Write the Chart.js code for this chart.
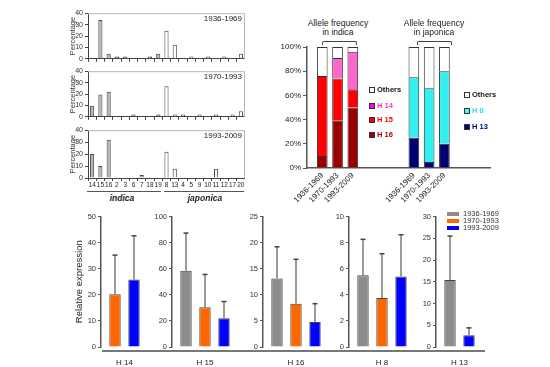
<!DOCTYPE html>
<html>
<head>
<meta charset="utf-8">
<script src="https://cdn.jsdelivr.net/npm/chart.js@4.4.0/dist/chart.umd.min.js"></script>
<style>
  body { margin: 0; background: #fff; font-family: Arial, "Liberation Sans", sans-serif; }
  #fig { position: relative; width: 550px; height: 367px; overflow: hidden; }
  canvas { position: absolute; }
  .t { position: absolute; white-space: nowrap; color: #222; line-height: 1; }
  .c { transform: translate(-50%, -50%); }
  .m { transform: translateY(-50%); }
  .ln { position: absolute; background: #555; }
  .sw { position: absolute; box-sizing: border-box; border: 1px solid #333; }
  .br { position: absolute; border: 1px solid #444; border-bottom: none; height: 3px; border-radius: 2px 2px 0 0; }
</style>
</head>
<body>
<div id="fig">
  <!-- allele histogram annotations -->
  <div class="t" style="font-size:8px;right:308px;top:15px">1936-1969</div>
  <div class="t" style="font-size:8px;right:308px;top:73px">1970-1993</div>
  <div class="t" style="font-size:8px;right:308px;top:132px">1993-2009</div>
  <div class="ln" style="left:87px;top:191px;width:74px;height:1px"></div>
  <div class="ln" style="left:164px;top:191px;width:80px;height:1px"></div>
  <div class="t c" style="font-size:8.5px;font-style:italic;font-weight:bold;left:122px;top:198px">indica</div>
  <div class="t c" style="font-size:8.5px;font-style:italic;font-weight:bold;left:205px;top:198px">japonica</div>

  <!-- allele frequency titles -->
  <div class="t c" style="font-size:8.5px;left:338px;top:23px">Allele frequency</div>
  <div class="t c" style="font-size:8.5px;left:338px;top:32px">in indica</div>
  <div class="br" style="left:322px;top:41px;width:33px"></div>
  <div class="t c" style="font-size:8.5px;left:434px;top:23px">Allele frequency</div>
  <div class="t c" style="font-size:8.5px;left:434px;top:32px">in japonica</div>
  <div class="br" style="left:417px;top:41px;width:33px"></div>

  <!-- indica legend -->
  <div class="sw" style="left:369px;top:87px;width:6px;height:6px;background:#fff"></div>
  <div class="t m" style="font-size:7.5px;font-weight:bold;left:377px;top:90px;color:#111">Others</div>
  <div class="sw" style="left:369px;top:103px;width:6px;height:6px;background:#ff00ff"></div>
  <div class="t m" style="font-size:7.5px;font-weight:bold;left:377px;top:106px;color:#ff33cc">H 14</div>
  <div class="sw" style="left:369px;top:117px;width:6px;height:6px;background:#ff0000"></div>
  <div class="t m" style="font-size:7.5px;font-weight:bold;left:377px;top:120px;color:#ff0000">H 15</div>
  <div class="sw" style="left:369px;top:132px;width:6px;height:6px;background:#990000"></div>
  <div class="t m" style="font-size:7.5px;font-weight:bold;left:377px;top:135px;color:#990000">H 16</div>

  <!-- japonica legend -->
  <div class="sw" style="left:464px;top:92px;width:6px;height:6px;background:#fff"></div>
  <div class="t m" style="font-size:7.5px;font-weight:bold;left:472px;top:95px;color:#111">Others</div>
  <div class="sw" style="left:464px;top:108px;width:6px;height:6px;background:#33ffff"></div>
  <div class="t m" style="font-size:7.5px;font-weight:bold;left:472px;top:111px;color:#33dddd">H 8</div>
  <div class="sw" style="left:464px;top:124px;width:6px;height:6px;background:#000080"></div>
  <div class="t m" style="font-size:7.5px;font-weight:bold;left:472px;top:127px;color:#000080">H 13</div>

  <!-- expression legend + shared baseline -->
  <div class="sw" style="left:447px;top:212px;width:12px;height:4px;background:#8c8c8c;border:none"></div>
  <div class="t m" style="font-size:7.5px;left:463px;top:214px;color:#333">1936-1969</div>
  <div class="sw" style="left:447px;top:219px;width:12px;height:4px;background:#ff6600;border:none"></div>
  <div class="t m" style="font-size:7.5px;left:463px;top:221px;color:#333">1970-1993</div>
  <div class="sw" style="left:447px;top:226px;width:12px;height:4px;background:#0000ff;border:none"></div>
  <div class="t m" style="font-size:7.5px;left:463px;top:228px;color:#333">1993-2009</div>
  <div class="ln" style="left:102px;top:350px;width:383px;height:2px;background:#777"></div>
</div>
<script>
// allele histograms (percentage of cultivars per allele)
const alleles = ['14','15','16','2','3','6','7','18','19','8','13','4','5','9','10','11','12','17','20'];
const indicaCount = 9;
const pct1936 = [0,34,4.5,2,2,0,0,2,4.5,24.5,12.4,0,2,0,2,0,2,0,4.5];
const pct1970 = [9.6,19.6,22,0,0,2,0,0,2,26.7,2,2,0,2,0,2,0,2,4.8];
const pct1993 = [20,10,32,0,0,0,2.5,0,0,22,7.7,0,0,0,0,7.7,0,0,0];

// stacked allele frequency
const periods = ['1936-1969','1970-1993','1993-2009'];
const indH16 = [10,39,50];
const indH15 = [66,35,15];
const indH14 = [0,17,31];
const indOthers = [24,9,4];
const japH13 = [25,5,20];
const japH8 = [50,61,60];
const japOthers = [25,34,20];

// relative expression
const genes = ['H 14','H 15','H 16','H 8','H 13'];
const mean1936 = [null,58.4,13.1,5.5,15.4];
const mean1970 = [20.2,30.5,8.3,3.75,null];
const mean1993 = [25.9,22.1,4.8,5.4,2.7];
const sd1936 = [null,28.9,6.1,2.75,10.1];
const sd1970 = [15,25.1,8.5,3.4,null];
const sd1993 = [16.7,12.7,3.5,3.2,1.7];
const exprMax = [50,100,25,10,30];
const exprStep = [10,20,5,2,5];

const fig = document.getElementById('fig');
const FONT = 'Arial, "Liberation Sans", sans-serif';

function makeCanvas(left, top, w, h) {
    const c = document.createElement('canvas');
    c.width = w; c.height = h;
    c.style.left = left + 'px'; c.style.top = top + 'px';
    c.style.width = w + 'px'; c.style.height = h + 'px';
    fig.insertBefore(c, fig.firstChild);
    return c;
}

// light frame on top and right of the histogram panels
const framePlugin = {
    id: 'frame',
    afterDraw(chart) {
        const a = chart.chartArea, ctx = chart.ctx;
        ctx.save();
        ctx.strokeStyle = '#b5b5b5';
        ctx.lineWidth = 1;
        ctx.beginPath();
        ctx.moveTo(a.left, a.top + 0.5);
        ctx.lineTo(a.right - 0.5, a.top + 0.5);
        ctx.lineTo(a.right - 0.5, a.bottom);
        ctx.stroke();
        ctx.restore();
    }
};

// one-sided error bars (mean + sd)
const errorBars = {
    id: 'errorBars',
    beforeDatasetsDraw(chart) {
        const ctx = chart.ctx, y = chart.scales.y;
        chart.data.datasets.forEach((ds, di) => {
            const meta = chart.getDatasetMeta(di);
            meta.data.forEach((bar, i) => {
                const v = ds.data[i], e = ds.err[i];
                if (v == null || e == null) return;
                const top = y.getPixelForValue(v + e);
                ctx.save();
                ctx.strokeStyle = '#7a7a7a';
                ctx.lineWidth = 1.5;
                ctx.beginPath();
                ctx.moveTo(bar.x, bar.y);
                ctx.lineTo(bar.x, top);
                ctx.stroke();
                ctx.strokeStyle = '#444';
                ctx.beginPath();
                ctx.moveTo(bar.x - 2.5, top);
                ctx.lineTo(bar.x + 2.5, top);
                ctx.stroke();
                ctx.restore();
            });
        });
    }
};

function pctPanel(plotTop, plotBottom, values, showLabels) {
    const xh = showLabels ? 12 : 6;
    const canvas = makeCanvas(64, plotTop - 5, 181, plotBottom - plotTop + 5 + xh);
    new Chart(canvas, {
        type: 'bar',
        data: {
            labels: alleles,
            datasets: [{
                data: values,
                backgroundColor: alleles.map((a, i) => i < indicaCount ? '#b4b4b4' : '#ffffff'),
                borderColor: '#444',
                borderWidth: 1,
                barPercentage: 0.5,
                categoryPercentage: 1
            }]
        },
        options: {
            responsive: false, animation: false, devicePixelRatio: 1,
            layout: { padding: { top: 5, right: 0, left: 0, bottom: 0 } },
            plugins: { legend: { display: false }, tooltip: { enabled: false } },
            scales: {
                x: {
                    offset: true,
                    afterFit: s => { s.height = xh; },
                    grid: { drawOnChartArea: false, tickLength: 3, color: '#444', offset: true },
                    border: { color: '#444', width: 1 },
                    ticks: { display: showLabels, autoSkip: false, maxRotation: 0, padding: 0,
                             font: { family: FONT, size: 6.5 }, color: '#222' }
                },
                y: {
                    min: 0, max: 40,
                    afterFit: s => { s.width = 24; },
                    grid: { drawOnChartArea: false, tickLength: 3, color: '#444' },
                    border: { color: '#444', width: 1 },
                    ticks: { stepSize: 10, padding: 2, font: { family: FONT, size: 7 }, color: '#333' },
                    title: { display: true, text: 'Percentage', padding: { top: 4, bottom: 0 },
                             font: { family: FONT, size: 7.5 }, color: '#333' }
                }
            }
        },
        plugins: [framePlugin]
    });
}

pctPanel(12, 59, pct1936, false);
pctPanel(70, 117, pct1970, false);
pctPanel(129, 178, pct1993, true);

// stacked allele frequency chart: indica group then japonica group on one axis
const slots = ['', ...periods, '', '', '', ...periods, '', '', ''];
function place(vals, start) {
    const out = slots.map(() => null);
    vals.forEach((v, i) => { out[start + i] = v; });
    return out;
}
const stackDs = (label, data, color) => ({
    label, data, backgroundColor: color, borderColor: '#333', borderWidth: 1,
    stack: 'freq', barPercentage: 0.7, categoryPercentage: 1
});
new Chart(makeCanvas(280, 40, 220, 170), {
    type: 'bar',
    data: {
        labels: slots,
        datasets: [
            stackDs('H 16', place(indH16, 1), '#990000'),
            stackDs('H 15', place(indH15, 1), '#ff0000'),
            stackDs('H 14', place(indH14, 1), '#ff66cc'),
            stackDs('H 13', place(japH13, 7), '#000070'),
            stackDs('H 8', place(japH8, 7), '#33f0f0'),
            stackDs('Others', [...place(indOthers, 1).slice(0, 7), ...place(japOthers, 7).slice(7)], '#ffffff')
        ]
    },
    options: {
        responsive: false, animation: false, devicePixelRatio: 1,
        layout: { padding: { top: 7, right: 5, left: 0, bottom: 0 } },
        plugins: { legend: { display: false }, tooltip: { enabled: false } },
        scales: {
            x: {
                stacked: true, offset: false,
                afterFit: s => { s.height = 42; },
                grid: { display: false, drawTicks: false },
                border: { color: '#555', width: 1.5 },
                ticks: { autoSkip: false, minRotation: 45, maxRotation: 45, padding: 3,
                         font: { family: FONT, size: 8 }, color: '#222' }
            },
            y: {
                stacked: true, min: 0, max: 100,
                afterFit: s => { s.width = 27; },
                grid: { drawOnChartArea: false, tickLength: 4, color: '#555' },
                border: { color: '#555', width: 1.5 },
                ticks: { stepSize: 20, padding: 2, callback: v => v + '%',
                         font: { family: FONT, size: 8 }, color: '#222' }
            }
        }
    }
});

// relative expression panels
const axisX = [101, 172, 263, 349, 436];
const yAxisW = [31, 22, 20, 20, 20];
genes.forEach((g, i) => {
    const nBars = [mean1936[i], mean1970[i], mean1993[i]].filter(v => v != null).length;
    const plotW = nBars === 3 ? 66 : 47;
    const catPct = (nBars * 19) / plotW;
    const bar = (label, mean, sd, color) => ({
        label, data: [mean[i]], err: [sd[i]], backgroundColor: color, borderColor: '#444',
        borderWidth: 1, barPercentage: 0.6, categoryPercentage: catPct
    });
    new Chart(makeCanvas(axisX[i] - yAxisW[i], 210, yAxisW[i] + plotW, 157), {
        type: 'bar',
        data: {
            labels: [g],
            datasets: [
                bar('1936-1969', mean1936, sd1936, '#8c8c8c'),
                bar('1970-1993', mean1970, sd1970, '#ff6600'),
                bar('1993-2009', mean1993, sd1993, '#0000ff')
            ]
        },
        options: {
            responsive: false, animation: false, devicePixelRatio: 1,
            skipNull: true,
            layout: { padding: { top: 6, right: 0, left: 0, bottom: 0 } },
            plugins: { legend: { display: false }, tooltip: { enabled: false } },
            scales: {
                x: {
                    afterFit: s => { s.height = 20; },
                    grid: { display: false, drawTicks: false },
                    border: { display: false },
                    ticks: { padding: 11, font: { family: FONT, size: 8 }, color: '#222' }
                },
                y: {
                    min: 0, max: exprMax[i],
                    afterFit: s => { s.width = yAxisW[i]; },
                    grid: { drawOnChartArea: false, tickLength: 3, color: '#555' },
                    border: { color: '#555', width: 1.5 },
                    ticks: { stepSize: exprStep[i], padding: 2, font: { family: FONT, size: 7.5 }, color: '#333' },
                    title: { display: i === 0, text: 'Relative expression', padding: { top: 4, bottom: 0 },
                             font: { family: FONT, size: 9.5 }, color: '#222' }
                }
            }
        },
        plugins: [errorBars]
    });
});
</script>
</body>
</html>
